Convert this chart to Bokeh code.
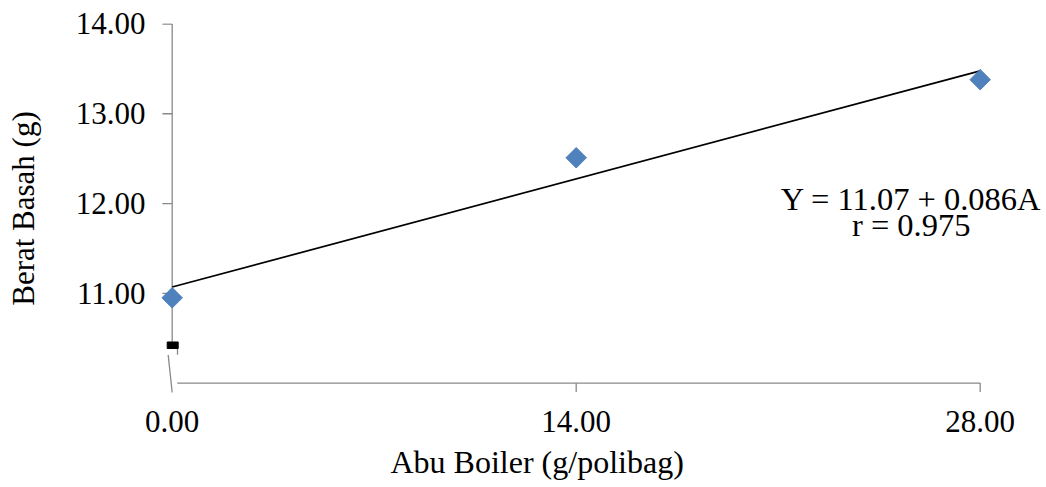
import math
from bokeh.plotting import figure
from bokeh.models import Label, Range1d, FixedTicker, PrintfTickFormatter, Title
from bokeh.embed import file_html
from bokeh.resources import INLINE

# ---- data ----
dose = [0, 14, 28]                      # Abu Boiler (g/polibag)
berat = [10.95, 12.51, 13.38]           # Berat Basah (g)
x_ticks = [0, 14, 28]
y_ticks = [11, 12, 13, 14]
intercept = 11.07
slope = 0.086
eq_text = "Y = 11.07 + 0.086A"
r_text = "r = 0.975"
x_title = "Abu Boiler (g/polibag)"
y_title = "Berat Basah (g)"

FONT = "Liberation Serif"
AXIS_COL = "#898989"

p = figure(width=1046, height=487,
           x_range=Range1d(-0.3708, 30.298), y_range=Range1d(9.884, 14.0055),
           output_backend="svg", toolbar_location=None,
           min_border_left=161, min_border_right=0,
           min_border_top=23, min_border_bottom=91)
p.xgrid.visible = False
p.ygrid.visible = False
p.outline_line_color = None
p.background_fill_color = "white"

# axes (labels from bokeh; lines/ticks drawn below in data space)
for ax, ticks in ((p.xaxis, x_ticks), (p.yaxis, y_ticks)):
    ax.ticker = FixedTicker(ticks=ticks)
    ax.formatter = PrintfTickFormatter(format="%.2f")
    ax.axis_line_color = None
    ax.major_tick_line_color = None
    ax.major_tick_out = 0
    ax.major_tick_in = 0
    ax.minor_tick_line_color = None
    ax.major_label_text_font = FONT
    ax.major_label_text_font_size = "31px"
    ax.major_label_text_color = "black"
p.xaxis.major_label_standoff = 17
p.yaxis.major_label_standoff = 16

p.yaxis.axis_label = y_title
p.yaxis.axis_label_text_font = FONT
p.yaxis.axis_label_text_font_size = "31px"
p.yaxis.axis_label_text_font_style = "normal"
p.yaxis.axis_label_text_color = "black"
p.yaxis.axis_label_standoff = 32

p.add_layout(Title(text=x_title, align="left", offset=229, standoff=15,
                   text_font=FONT, text_font_size="32px",
                   text_font_style="normal", text_color="black"), "below")

# axis lines with break
p.segment(x0=[0, 0.173], y0=[14, 10], x1=[0, 28], y1=[10.46, 10],
          line_color=AXIS_COL, line_width=1.3)
p.segment(x0=[0.184, -0.139], y0=[10.385, 10.315], x1=[0.184, 0], y1=[10.315, 9.895],
          line_color=AXIS_COL, line_width=1.3)
p.quad(left=[-0.173], right=[0.208], bottom=[10.385], top=[10.458],
       fill_color="black", line_color="black")
# tick marks
p.segment(x0=[-0.34] * len(y_ticks), y0=y_ticks, x1=[0] * len(y_ticks), y1=y_ticks,
          line_color=AXIS_COL, line_width=1.3)
p.segment(x0=x_ticks[1:], y0=[10] * (len(x_ticks) - 1), x1=x_ticks[1:],
          y1=[9.9] * (len(x_ticks) - 1), line_color=AXIS_COL, line_width=1.3)

# regression line
x_line = [min(dose), max(dose)]
y_line = [intercept + slope * x for x in x_line]
p.line(x_line, y_line, line_color="black", line_width=1.7)

# points
p.scatter(dose, berat, marker="square", angle=math.pi / 4, size=14.5,
          fill_color="#4F81BD", line_color="#4F81BD")

# equation
p.add_layout(Label(x=25.61, y=12.05, text=eq_text, text_align="center",
                   text_baseline="alphabetic", text_font=FONT,
                   text_font_size="32.5px", text_color="black"))
p.add_layout(Label(x=25.61, y=11.765, text=r_text, text_align="center",
                   text_baseline="alphabetic", text_font=FONT,
                   text_font_size="32.5px", text_color="black"))

open("out.html", "w").write(file_html(p, INLINE))
